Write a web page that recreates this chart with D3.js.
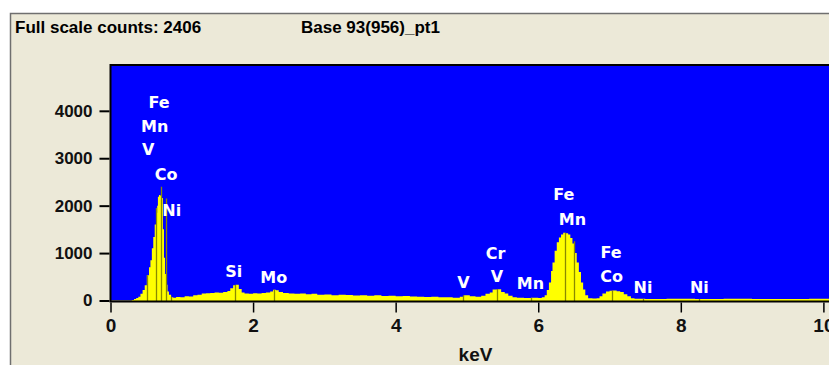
<!DOCTYPE html>
<html>
<head>
<meta charset="utf-8">
<script src="https://cdn.jsdelivr.net/npm/d3@7"></script>
<style>
  body { margin: 0; background: #ffffff; }
  svg { display: block; }
</style>
</head>
<body>
<div id="chart"></div>
<script>
var svgWidth = 829;
var svgHeight = 365;

// spectrum, keV and counts
var energies = [0.00, 0.30, 0.33, 0.36, 0.39, 0.42, 0.45, 0.48, 0.51, 0.54, 0.56, 0.58, 0.60, 0.62, 0.64, 0.655, 0.665, 0.68, 0.70, 0.72, 0.735, 0.75, 0.765, 0.78, 0.80, 0.82, 0.85,
    0.88, 0.92, 0.98, 1.04, 1.10, 1.16, 1.22, 1.28, 1.34, 1.40, 1.46, 1.52, 1.58, 1.64, 1.68, 1.72, 1.76, 1.80, 1.84, 1.88, 1.94, 2.00, 2.06, 2.12, 2.18, 2.24, 2.28, 2.32, 2.36, 2.42,
    2.50, 2.58, 2.66, 2.74, 2.82, 2.90, 3.00, 3.10, 3.20, 3.30, 3.40, 3.50, 3.60, 3.70, 3.80, 3.90, 4.00, 4.10, 4.20, 4.30, 4.40, 4.50, 4.60, 4.70, 4.80, 4.90, 4.96,
    5.04, 5.12, 5.20, 5.26, 5.32, 5.36, 5.42, 5.48, 5.53, 5.58, 5.64, 5.70, 5.80, 5.90, 6.00, 6.05, 6.09, 6.12, 6.15, 6.18, 6.20, 6.23, 6.26, 6.29, 6.32, 6.35, 6.38, 6.42,
    6.45, 6.48, 6.51, 6.54, 6.57, 6.60, 6.63, 6.66, 6.70, 6.76, 6.82, 6.86, 6.90, 6.95, 7.00, 7.05, 7.10, 7.15, 7.20, 7.25, 7.30, 7.35, 7.50, 7.80, 8.20, 8.60, 9.00, 9.40, 9.80, 10.24];
var counts = [0, 10, 30, 55, 80, 140, 220, 320, 530, 700, 850, 1100, 1340, 1600, 1850, 2000, 2190, 2225, 2210, 2160, 1500, 900, 560, 330, 190, 120, 70,
    60, 75, 70, 90, 85, 110, 120, 150, 155, 160, 170, 165, 180, 200, 260, 320, 330, 240, 170, 150, 140, 155, 145, 160, 170, 190, 225, 215, 180, 160,
    150, 140, 150, 130, 140, 120, 125, 110, 120, 115, 105, 110, 100, 110, 95, 100, 90, 95, 85, 80, 75, 80, 70, 70, 60, 80, 110,
    90, 80, 100, 140, 170, 230, 235, 180, 150, 100, 70, 60, 55, 60, 55, 70, 110, 220, 380, 620, 800, 1050, 1230, 1330, 1390, 1430, 1420, 1390,
    1320, 1200, 1000, 800, 600, 380, 230, 110, 50, 40, 50, 90, 150, 190, 205, 210, 195, 180, 130, 90, 50, 35, 30, 35, 30, 35, 30, 30, 35, 30];

// element marker lines
var markerKeV = [0.511, 0.637, 0.705, 0.776, 0.851, 1.74, 2.29, 4.95, 5.42, 5.90, 6.38, 6.50, 7.04, 7.47, 8.26];
var markerCounts = [530, 1950, 2400, 2150, 80, 330, 225, 110, 240, 60, 1430, 1250, 210, 30, 30];

// peak labels
var labelText = ["Fe", "Mn", "V", "Co", "Ni", "Si", "Mo", "V", "Cr", "V", "Mn", "Fe", "Mn", "Fe", "Co", "Ni", "Ni"];
var labelKeV = [0.68, 0.62, 0.53, 0.78, 0.86, 1.73, 2.29, 4.95, 5.40, 5.42, 5.89, 6.36, 6.48, 7.02, 7.03, 7.47, 8.26];
var labelCounts = [4190, 3685, 3190, 2665, 1900, 620, 486, 387, 1000, 507, 366, 2240, 1712, 1022, 507, 281, 281];

var yTicks = [0, 1000, 2000, 3000, 4000];
var xTicks = [0, 2, 4, 6, 8, 10];

var plot = { left: 110.5, right: 840.5, top: 65, bottom: 300.5 };

var svg = d3.select("#chart")
    .append("svg")
    .attr("width", svgWidth)
    .attr("height", svgHeight);

// panel frame
svg.append("rect")
    .attr("x", 10.5)
    .attr("y", 13.5)
    .attr("width", 900)
    .attr("height", 400)
    .attr("fill", "#ECE9D8")
    .attr("stroke", "#6f6f6f")
    .attr("stroke-width", 1.5);

svg.append("text")
    .attr("x", 15)
    .attr("y", 33)
    .attr("font-family", "Liberation Sans, Arial, sans-serif")
    .attr("font-weight", "bold")
    .attr("font-size", "17px")
    .attr("fill", "#000")
    .text("Full scale counts: 2406");

svg.append("text")
    .attr("x", 301)
    .attr("y", 33)
    .attr("font-family", "Liberation Sans, Arial, sans-serif")
    .attr("font-weight", "bold")
    .attr("font-size", "17px")
    .attr("fill", "#000")
    .text("Base 93(956)_pt1");

var x = d3.scaleLinear()
    .domain([0, 10.24])
    .range([plot.left, plot.right]);

var y = d3.scaleLinear()
    .domain([0, 4966])
    .range([plot.bottom, plot.top]);

svg.append("defs").append("clipPath")
    .attr("id", "clip")
    .append("rect")
    .attr("x", plot.left)
    .attr("y", plot.top)
    .attr("width", plot.right - plot.left)
    .attr("height", plot.bottom - plot.top + 1);

svg.append("rect")
    .attr("x", plot.left)
    .attr("y", plot.top)
    .attr("width", plot.right - plot.left)
    .attr("height", plot.bottom - plot.top + 1)
    .attr("fill", "#0000FF");

var spectrum = energies.map(function(e, i) { return { e: e, c: counts[i] }; });

var area = d3.area()
    .curve(d3.curveStepAfter)
    .x(d => x(d.e))
    .y0(y(0) + 1)
    .y1(d => y(d.c));

var chartGroup = svg.append("g").attr("clip-path", "url(#clip)");

chartGroup.append("path")
    .datum(spectrum)
    .attr("d", area)
    .attr("fill", "#FFFF00");

chartGroup.selectAll("line.marker")
    .data(markerKeV)
    .enter()
    .append("line")
    .attr("class", "marker")
    .attr("x1", d => Math.round(x(d)) + 0.5)
    .attr("x2", d => Math.round(x(d)) + 0.5)
    .attr("y1", y(0) + 1)
    .attr("y2", (d, i) => y(markerCounts[i]))
    .attr("stroke", "#8a8a00")
    .attr("stroke-width", 1.3);

chartGroup.selectAll("text.peak")
    .data(labelText)
    .enter()
    .append("text")
    .attr("class", "peak")
    .attr("x", (d, i) => x(labelKeV[i]))
    .attr("y", (d, i) => y(labelCounts[i]))
    .attr("dy", "0.36em")
    .attr("text-anchor", "middle")
    .attr("font-family", "DejaVu Sans, Verdana, sans-serif")
    .attr("font-weight", "bold")
    .attr("font-size", "16px")
    .attr("fill", "#ffffff")
    .text(d => d);

// plot border
svg.append("rect")
    .attr("x", plot.left)
    .attr("y", plot.top)
    .attr("width", plot.right - plot.left)
    .attr("height", plot.bottom - plot.top + 1)
    .attr("fill", "none")
    .attr("stroke", "#000")
    .attr("stroke-width", 2);

var leftAxis = d3.axisLeft(y)
    .tickValues(yTicks)
    .tickSize(10)
    .tickPadding(7)
    .tickFormat(d3.format("d"));

var yaxis = svg.append("g")
    .attr("transform", `translate(${plot.left - 1}, 0)`)
    .call(leftAxis);

yaxis.select(".domain").remove();
yaxis.selectAll("line").attr("stroke", "#000").attr("stroke-width", 2);
yaxis.selectAll("text")
    .attr("font-family", "Liberation Sans, Arial, sans-serif")
    .attr("font-weight", "bold")
    .attr("font-size", "17px")
    .attr("fill", "#111");

var bottomAxis = d3.axisBottom(x)
    .tickValues(xTicks)
    .tickSize(10)
    .tickPadding(6)
    .tickFormat(d3.format("d"));

var xaxis = svg.append("g")
    .attr("transform", `translate(0, ${plot.bottom + 2})`)
    .call(bottomAxis);

xaxis.select(".domain").remove();
xaxis.selectAll("line").attr("stroke", "#000").attr("stroke-width", 1.5);
xaxis.selectAll("text")
    .attr("font-family", "Liberation Sans, Arial, sans-serif")
    .attr("font-weight", "bold")
    .attr("font-size", "19px")
    .attr("fill", "#111");

svg.append("text")
    .attr("x", (plot.left + plot.right) / 2)
    .attr("y", 361)
    .attr("text-anchor", "middle")
    .attr("font-family", "Liberation Sans, Arial, sans-serif")
    .attr("font-weight", "bold")
    .attr("font-size", "19px")
    .attr("fill", "#111")
    .text("keV");
</script>
</body>
</html>
